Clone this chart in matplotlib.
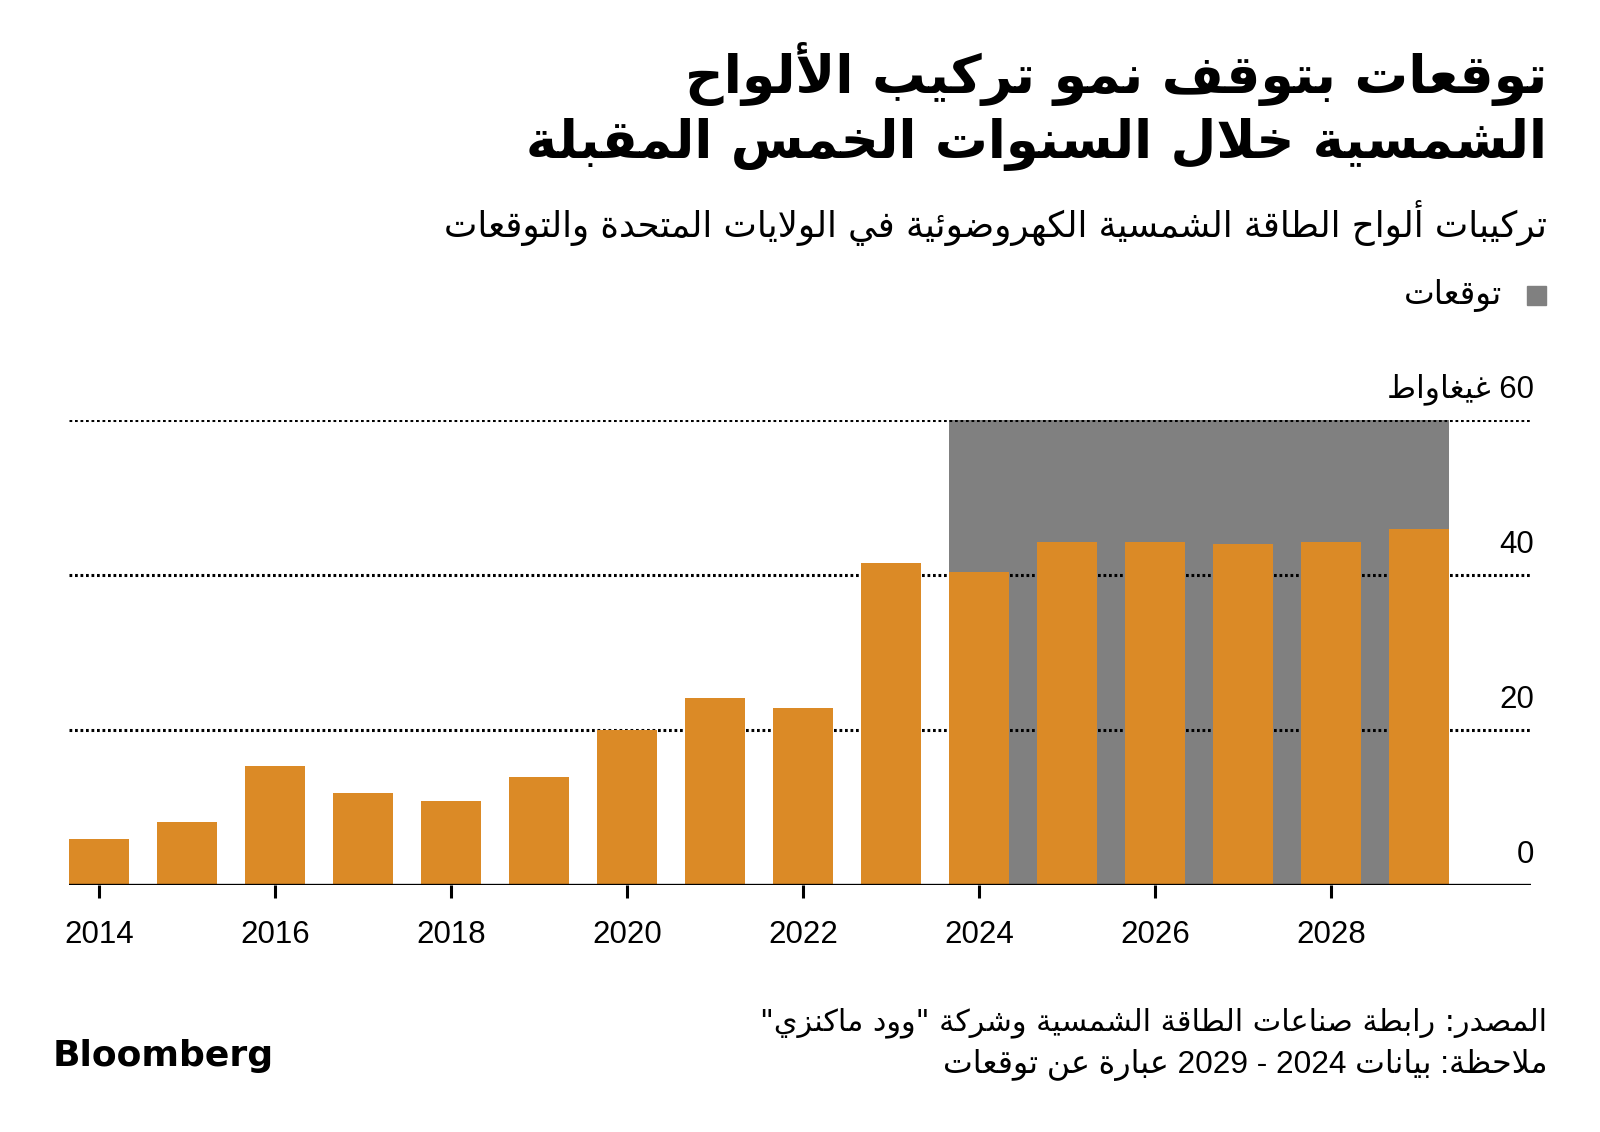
import re
import matplotlib
matplotlib.use("Agg")
import matplotlib.pyplot as plt
import matplotlib.transforms as mtransforms
from matplotlib.patches import Rectangle

# Data (GW)
years = [2014, 2015, 2016, 2017, 2018, 2019, 2020, 2021,
         2022, 2023, 2024, 2025, 2026, 2027, 2028, 2029]
installs = [6.0, 8.1, 15.4, 11.9, 10.9, 13.9, 20.0, 24.1,
            22.8, 41.6, 40.4, 44.2, 44.2, 44.0, 44.2, 45.9]
forecast_years = [2024, 2029]
y_ticks = [0, 20, 40, 60]
x_ticks = [2014, 2016, 2018, 2020, 2022, 2024, 2026, 2028]

title_1 = "توقعات بتوقف نمو تركيب الألواح"
title_2 = "الشمسية خلال السنوات الخمس المقبلة"
subtitle = "تركيبات ألواح الطاقة الشمسية الكهروضوئية في الولايات المتحدة والتوقعات"
legend_label = "توقعات"
unit_label = "غيغاواط"
source_1 = 'المصدر: رابطة صناعات الطاقة الشمسية وشركة "وود ماكنزي"'
source_2 = "ملاحظة: بيانات 2024 - 2029 عبارة عن توقعات"

ORANGE = "#DB8A26"
GREY = "#808080"

# --- minimal Arabic shaping + RTL ordering (matplotlib has no bidi) ---
FOUR = {'ئ': 0xFE89, 'ب': 0xFE8F, 'ت': 0xFE95, 'ث': 0xFE99, 'ج': 0xFE9D,
        'ح': 0xFEA1, 'خ': 0xFEA5, 'س': 0xFEB1, 'ش': 0xFEB5, 'ص': 0xFEB9,
        'ض': 0xFEBD, 'ط': 0xFEC1, 'ظ': 0xFEC5, 'ع': 0xFEC9, 'غ': 0xFECD,
        'ف': 0xFED1, 'ق': 0xFED5, 'ك': 0xFED9, 'ل': 0xFEDD, 'م': 0xFEE1,
        'ن': 0xFEE5, 'ه': 0xFEE9, 'ي': 0xFEF1}
TWO = {'آ': 0xFE81, 'أ': 0xFE83, 'ؤ': 0xFE85, 'إ': 0xFE87, 'ا': 0xFE8D,
       'ة': 0xFE93, 'د': 0xFEA9, 'ذ': 0xFEAB, 'ر': 0xFEAD, 'ز': 0xFEAF,
       'و': 0xFEED, 'ى': 0xFEEF}
ONE = {'ء': 0xFE80}
LAMALEF = {'آ': 0xFEF5, 'أ': 0xFEF7, 'إ': 0xFEF9, 'ا': 0xFEFB}


def shape(s):
    units = []
    i = 0
    while i < len(s):
        if s[i] == 'ل' and i + 1 < len(s) and s[i + 1] in LAMALEF:
            units.append(('LA', s[i + 1]))
            i += 2
        else:
            units.append(('C', s[i]))
            i += 1

    def joinable(u):
        return u is not None and (u[0] == 'LA' or u[1] in FOUR or u[1] in TWO)

    def joins_next(u):
        return u is not None and u[0] == 'C' and u[1] in FOUR

    out = []
    for k, u in enumerate(units):
        prev = units[k - 1] if k > 0 else None
        nxt = units[k + 1] if k + 1 < len(units) else None
        p = joins_next(prev) and joinable(u)
        if u[0] == 'LA':
            out.append(chr(LAMALEF[u[1]] + (1 if p else 0)))
        elif u[1] in FOUR:
            n = joinable(nxt)
            out.append(chr(FOUR[u[1]] + {(False, False): 0, (True, False): 1,
                                         (False, True): 2, (True, True): 3}[(p, n)]))
        elif u[1] in TWO:
            out.append(chr(TWO[u[1]] + (1 if p else 0)))
        elif u[1] in ONE:
            out.append(chr(ONE[u[1]]))
        else:
            out.append(u[1])
    return ''.join(out)


def ar(s):
    tokens = re.findall(r'[0-9A-Za-z]+|[^0-9A-Za-z]+', shape(s))
    return ''.join(t if t[0].isascii() and t[0].isalnum() else t[::-1]
                   for t in reversed(tokens))


FAM = ['Liberation Sans', 'DejaVu Sans']
AR = ['DejaVu Sans']

fig = plt.figure(figsize=(16, 11.32), dpi=100)
ax = fig.add_axes([69 / 1600, 1 - 885 / 1132, 1462 / 1600, 465 / 1132])

half = 0.34
ax.axvspan(forecast_years[0] - half, forecast_years[1] + half, color=GREY, lw=0, zorder=0)
for v in y_ticks[1:]:
    ax.axhline(v, color="black", lw=2.2, ls=(0, (0.9, 0.9)), zorder=1)
ax.bar(years, installs, width=0.68, color=ORANGE, zorder=2)
ax.axhline(0, color="black", lw=2.4, zorder=3)

ax.set_xlim(2013.66, 2030.27)
ax.set_ylim(0, 60)
for s in ax.spines.values():
    s.set_visible(False)
ax.set_yticks([])
ax.set_xticks(x_ticks)
ax.set_xticklabels([str(x) for x in x_ticks], fontsize=22.5, family=FAM)
ax.tick_params(axis="x", length=9, width=2.2, pad=16, color="black")

trans = mtransforms.blended_transform_factory(ax.transAxes, ax.transData)
for v in y_ticks:
    label = str(v) if v != 60 else ar("60 " + unit_label)
    ax.text(1.002, v + 2.9, label, transform=trans, ha="right", va="baseline",
            fontsize=22.5, family=FAM)

# titles
fig.text(0.967, 0.935, ar(title_1), ha="right", va="center", fontsize=38.5,
         fontweight="bold", family=AR)
fig.text(0.967, 0.872, ar(title_2), ha="right", va="center", fontsize=38,
         fontweight="bold", family=AR)
fig.text(0.967, 0.803, ar(subtitle), ha="right", va="center", fontsize=25.6, family=AR)

# legend
fig.patches.append(Rectangle((1527 / 1600, 1 - 305 / 1132), 19 / 1600, 19 / 1132,
                             transform=fig.transFigure, color=GREY))
fig.text(1502 / 1600, 1 - 295 / 1132, ar(legend_label), ha="right", va="center",
         fontsize=23.5, family=AR)

# footer
fig.text(0.967, 0.0963, ar(source_1), ha="right", va="center", fontsize=21.8, family=AR)
fig.text(0.967, 0.059, ar(source_2), ha="right", va="center", fontsize=22.8, family=FAM)
fig.text(53 / 1600, 0.0583, "Bloomberg", ha="left", va="baseline", fontsize=26,
         fontweight="bold", family=AR)

fig.savefig("out.png", dpi=100, facecolor="white")
